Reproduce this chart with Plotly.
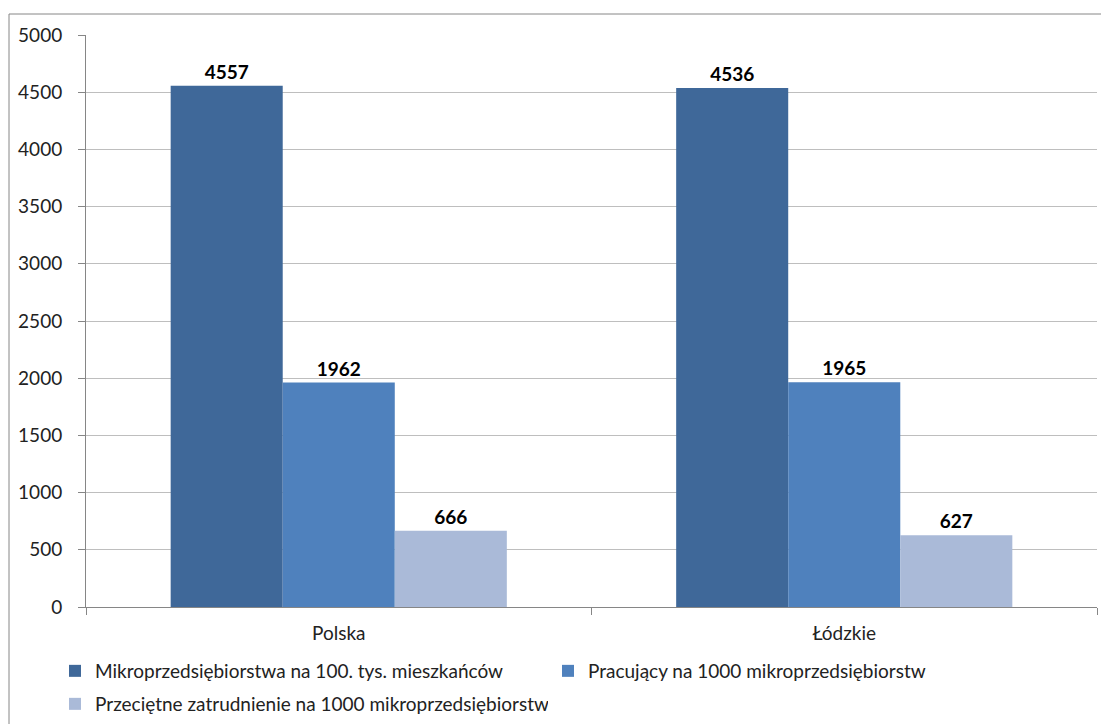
import plotly.graph_objects as go

categories = ["Polska", "Łódzkie"]
series_names = [
    "Mikroprzedsiębiorstwa na 100. tys. mieszkańców",
    "Pracujący na 1000 mikroprzedsiębiorstw",
    "Przeciętne zatrudnienie na 1000 mikroprzedsiębiorstw",
]
mikro = [4557, 4536]
pracujacy = [1962, 1965]
zatrudnienie = [666, 627]
colors = ["#3F6899", "#4F81BD", "#AABAD8"]
legend_ids = ["legend", "legend", "legend2"]

W, H = 1101, 724
ml, mr, mt, mb = 86, 4, 35, 117
pw, ph = W - ml - mr, H - mt - mb


def px_x(sx):
    return (sx - ml) / pw


def px_y(sy):
    return (H - mb - sy) / ph


font = "Lato"
tcol = "#222222"

fig = go.Figure()
for name, vals, col, lg in zip(series_names, [mikro, pracujacy, zatrudnienie], colors, legend_ids):
    fig.add_trace(go.Bar(
        x=categories, y=vals, name=name, legend=lg,
        marker=dict(color=col, line=dict(width=0)),
        text=vals, texttemplate="<b>%{text}</b>", textposition="outside",
        textfont=dict(family=font, size=19, color="black"),
        cliponaxis=False,
    ))

legend_common = dict(
    orientation="h", xanchor="left", yanchor="bottom",
    entrywidth=448, entrywidthmode="pixels",
    font=dict(family=font, size=19, color=tcol),
    itemwidth=30, bgcolor="rgba(0,0,0,0)",
)

fig.update_layout(
    width=W, height=H,
    margin=dict(l=ml, r=mr, t=mt, b=mb, autoexpand=False),
    paper_bgcolor="white", plot_bgcolor="white",
    barmode="group", bargap=0.335, bargroupgap=0,
    font=dict(family=font, size=19, color=tcol),
    showlegend=True,
    legend=dict(x=px_x(55), y=px_y(690), **legend_common),
    legend2=dict(x=px_x(55), y=px_y(723), **legend_common),
    xaxis=dict(
        type="category", showline=True, linecolor="#868686", linewidth=1,
        ticks="outside", ticklen=7, tickcolor="#868686", tickson="boundaries",
        showgrid=False, tickfont=dict(family=font, size=19, color=tcol),
        ticklabelstandoff=9, automargin=False,
    ),
    yaxis=dict(
        range=[0, 5000], dtick=500, tick0=0,
        showline=True, linecolor="#868686", linewidth=1,
        ticks="outside", ticklen=7, tickcolor="#868686",
        showgrid=True, gridcolor="#BEBEBE", gridwidth=1,
        zeroline=False, automargin=False,
        tickfont=dict(family=font, size=19, color=tcol),
        ticklabelstandoff=12,
    ),
    shapes=[dict(
        type="rect", xref="paper", yref="paper",
        x0=px_x(9), x1=px_x(1115), y0=px_y(740), y1=px_y(14),
        line=dict(color="#868686", width=1), fillcolor="rgba(0,0,0,0)",
        layer="above",
    )],
)

fig.write_html(
    "out.html",
    config={"displayModeBar": False},
    post_script="document.body.style.margin='0px';document.body.style.overflow='hidden';",
)
